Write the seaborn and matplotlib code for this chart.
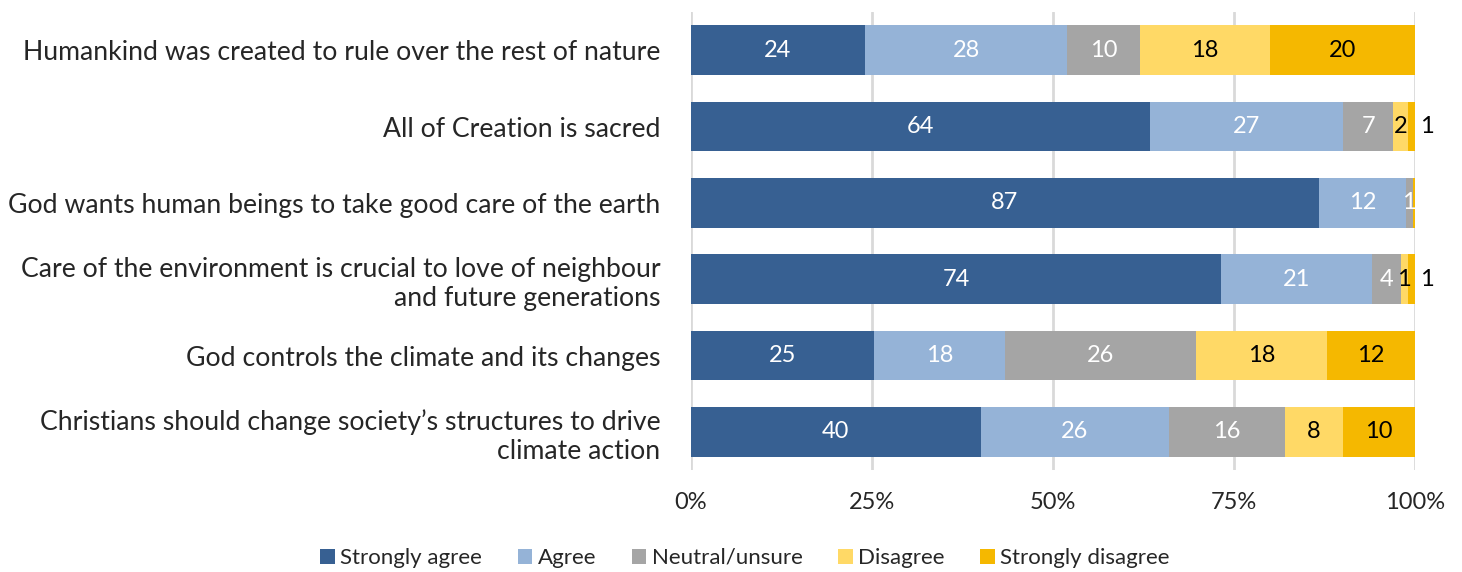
import numpy as np
import pandas as pd
import matplotlib
matplotlib.use("Agg")
import matplotlib.pyplot as plt
import seaborn as sns
from matplotlib.patches import Patch

questions = [
    "Humankind was created to rule over the rest of nature",
    "All of Creation is sacred",
    "God wants human beings to take good care of the earth",
    "Care of the environment is crucial to love of neighbour\nand future generations",
    "God controls the climate and its changes",
    "Christians should change society\u2019s structures to drive\nclimate action",
]
series = ["Strongly agree", "Agree", "Neutral/unsure", "Disagree", "Strongly disagree"]
strongly_agree = [24, 64, 87, 74, 25, 40]
agree = [28, 27, 12, 21, 18, 26]
neutral = [10, 7, 1, 4, 26, 16]
disagree = [18, 2, 0, 1, 18, 8]
strongly_disagree = [20, 1, 0.3, 1, 12, 10]
colors = ["#376092", "#95B3D7", "#A5A5A5", "#FFD966", "#F5B800"]
label_colors = ["white", "white", "white", "black", "black"]
xticks = [0, 25, 50, 75, 100]
xticklabels = ["0%", "25%", "50%", "75%", "100%"]

sns.set_theme(style="white")
plt.rcParams["font.family"] = ["Lato", "DejaVu Sans"]

vals = np.array([strongly_agree, agree, neutral, disagree, strongly_disagree], dtype=float)
totals = vals.sum(axis=0)
pct = vals / totals * 100
cum = np.cumsum(pct, axis=0)

fig = plt.figure(figsize=(14.62, 5.72), dpi=100)
ax = fig.add_axes([691 / 1462, 1 - 470 / 572, (1415 - 691) / 1462, (470 - 12) / 572])

for i in reversed(range(len(series))):
    df = pd.DataFrame({"question": questions, "value": cum[i]})
    sns.barplot(data=df, x="value", y="question", color=colors[i], orient="h",
                width=0.655, ax=ax, saturation=1, linewidth=0, order=questions)

# labels
for j in range(len(questions)):
    for i in range(len(series)):
        raw = vals[i, j]
        if raw < 0.5:
            continue
        start = cum[i, j] - pct[i, j]
        center = start + pct[i, j] / 2
        txt = f"{int(round(raw))}"
        col = label_colors[i]
        if i == 4 and pct[i, j] < 2:
            ax.text(101.7, j, txt, ha="center", va="center", fontsize=17, color="black")
        else:
            ax.text(center, j, txt, ha="center", va="center", fontsize=17, color=col)

ax.set_xlim(0, 100)
ax.set_ylim(5.5, -0.5)
ax.set_xticks(xticks)
ax.set_xticklabels(xticklabels, fontsize=17)
ax.set_ylabel("")
ax.set_xlabel("")
ax.tick_params(axis="y", labelsize=19.2, length=0, pad=22)
ax.tick_params(axis="x", length=0, pad=16)
for lbl in ax.get_yticklabels():
    lbl.set_multialignment("right")
ax.grid(axis="x", color="#D9D9D9", linewidth=2)
ax.grid(axis="y", visible=False)
ax.set_axisbelow(True)
for s in ax.spines.values():
    s.set_visible(False)

handles = [Patch(facecolor=c, edgecolor="none", label=s) for c, s in zip(colors, series)]
fig.legend(handles=handles, loc="center", bbox_to_anchor=(745 / 1462, 1 - 558 / 572),
           ncol=5, frameon=False, fontsize=16, handlelength=0.65, handleheight=0.65,
           handletextpad=0.25, columnspacing=1.6)

fig.savefig("out.png", dpi=100)
